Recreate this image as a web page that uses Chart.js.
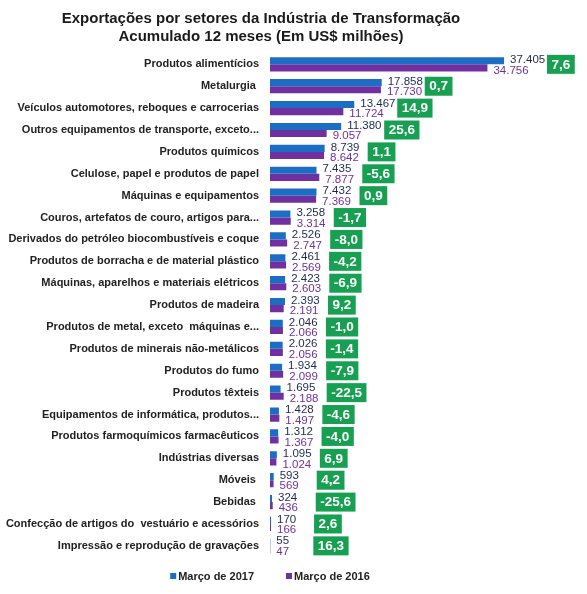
<!DOCTYPE html>
<html><head><meta charset="utf-8">
<script src="https://cdn.jsdelivr.net/npm/chart.js@4.4.1/dist/chart.umd.min.js"></script>
<style>html,body{margin:0;padding:0;background:#fff;}</style>
</head><body>
<canvas id="c" width="587" height="594"></canvas>
<script>
const titleLines = ['Exportações por setores da Indústria de Transformação', 'Acumulado 12 meses (Em US$ milhões)'];
const seriesNames = ['Março de 2017', 'Março de 2016'];
const categories = [
  'Produtos alimentícios',
  'Metalurgia ',
  'Veículos automotores, reboques e carrocerias',
  'Outros equipamentos de transporte, exceto...',
  'Produtos químicos',
  'Celulose, papel e produtos de papel',
  'Máquinas e equipamentos',
  'Couros, artefatos de couro, artigos para...',
  'Derivados do petróleo biocombustíveis e coque',
  'Produtos de borracha e de material plástico',
  'Máquinas, aparelhos e materiais elétricos',
  'Produtos de madeira',
  'Produtos de metal, exceto  máquinas e...',
  'Produtos de minerais não-metálicos',
  'Produtos do fumo',
  'Produtos têxteis',
  'Equipamentos de informática, produtos...',
  'Produtos farmoquímicos farmacêuticos',
  'Indústrias diversas',
  'Móveis ',
  'Bebidas ',
  'Confecção de artigos do  vestuário e acessórios',
  'Impressão e reprodução de gravações'
];
const marco2017 = [37405, 17858, 13467, 11380, 8739, 7435, 7432, 3258, 2526, 2461, 2423, 2393, 2046, 2026, 1934, 1695, 1428, 1312, 1095, 593, 324, 170, 55];
const marco2016 = [34756, 17730, 11724, 9057, 8642, 7877, 7369, 3314, 2747, 2569, 2603, 2191, 2066, 2056, 2099, 2188, 1497, 1367, 1024, 569, 436, 166, 47];
const variacao = [7.6, 0.7, 14.9, 25.6, 1.1, -5.6, 0.9, -1.7, -8.0, -4.2, -6.9, 9.2, -1.0, -1.4, -7.9, -22.5, -4.6, -4.0, 6.9, 4.2, -25.6, 2.6, 16.3];

const FONT = '"Liberation Sans", Arial, sans-serif';
const BLUE = '#1c6ec4';
const PURPLE = '#7030a0';
const GREEN = '#17a052';

function fmtThousands(v) { return String(v).replace(/\B(?=(\d{3})+(?!\d))/g, '.'); }
function fmtPct(v) { return v.toFixed(1).replace('.', ','); }

const decorPlugin = {
  id: 'decor',
  afterDatasetsDraw(chart) {
    const ctx = chart.ctx;
    const m0 = chart.getDatasetMeta(0);
    const m1 = chart.getDatasetMeta(1);
    const xs = chart.scales.x, ys = chart.scales.y;
    ctx.save();
    ctx.textBaseline = 'middle';
    ctx.textAlign = 'left';
    ctx.font = '11.5px ' + FONT;
    categories.forEach((c, i) => {
      const b0 = m0.data[i], b1 = m1.data[i];
      ctx.fillStyle = '#1f2a52';
      ctx.fillText(fmtThousands(marco2017[i]), b0.x + 6, b0.y - 1);
      ctx.fillStyle = PURPLE;
      ctx.fillText(fmtThousands(marco2016[i]), b1.x + 6, b1.y + 2.5);
    });
    ctx.font = 'bold 13.5px ' + FONT;
    categories.forEach((c, i) => {
      const t = fmtPct(variacao[i]);
      const w = ctx.measureText(t).width + 9;
      const h = 19;
      const x = xs.getPixelForValue(Math.max(marco2017[i], marco2016[i])) + 43;
      const yc = ys.getPixelForValue(i);
      ctx.fillStyle = GREEN;
      ctx.fillRect(x, yc - h / 2, w, h);
      ctx.fillStyle = '#ffffff';
      ctx.textAlign = 'center';
      ctx.fillText(t, x + w / 2, yc + 0.5);
      ctx.textAlign = 'left';
    });
    ctx.restore();
  },
  afterDraw(chart) {
    const ctx = chart.ctx;
    ctx.save();
    // title
    ctx.fillStyle = '#1a1a1a';
    ctx.font = 'bold 15px ' + FONT;
    ctx.textAlign = 'center';
    ctx.textBaseline = 'middle';
    ctx.fillText(titleLines[0], 261, 19);
    ctx.fillText(titleLines[1], 261, 37);
    // legend
    ctx.font = 'bold 11px ' + FONT;
    ctx.textAlign = 'left';
    const colors = [BLUE, PURPLE];
    const box = 6, gapText = 2, gapItem = 32;
    const widths = seriesNames.map(s => box + gapText + ctx.measureText(s).width);
    const total = widths[0] + gapItem + widths[1];
    let x = 270 - total / 2;
    const y = 576;
    seriesNames.forEach((s, i) => {
      ctx.fillStyle = colors[i];
      ctx.fillRect(x, y - box / 2, box, box);
      ctx.fillStyle = '#222222';
      ctx.fillText(s, x + box + gapText, y + 0.5);
      x += widths[i] + gapItem;
    });
    ctx.restore();
  }
};

new Chart(document.getElementById('c'), {
  type: 'bar',
  data: {
    labels: categories,
    datasets: [
      { label: seriesNames[0], data: marco2017, backgroundColor: BLUE, borderWidth: 0, categoryPercentage: 0.65, barPercentage: 1.0 },
      { label: seriesNames[1], data: marco2016, backgroundColor: PURPLE, borderWidth: 0, categoryPercentage: 0.65, barPercentage: 1.0 }
    ]
  },
  options: {
    indexAxis: 'y',
    responsive: false,
    animation: false,
    devicePixelRatio: 1,
    layout: { padding: { top: 53.4, bottom: 37.2, left: 0, right: 0 } },
    plugins: {
      legend: { display: false },
      title: { display: false },
      tooltip: { enabled: false }
    },
    scales: {
      x: { display: false, min: 0, max: 50670 },
      y: {
        border: { display: false },
        grid: { display: false, drawTicks: false },
        ticks: { color: '#222222', font: { family: FONT, size: 11, weight: 'bold' }, padding: 11, autoSkip: false },
        afterFit(scale) { scale.width = 270; }
      }
    }
  },
  plugins: [decorPlugin]
});
</script>
</body></html>
